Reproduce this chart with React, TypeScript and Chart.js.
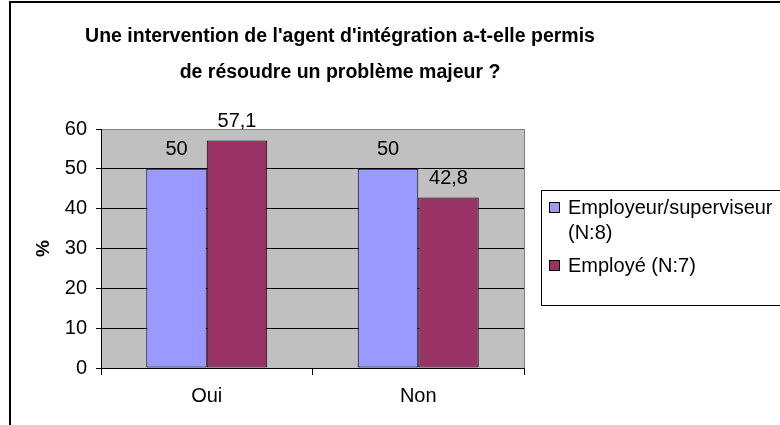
import React, { useEffect, useRef } from "react";
import { Chart, registerables } from "chart.js";

Chart.register(...registerables);

const categories = ["Oui", "Non"];
const employeurValues = [50, 50];
const employeValues = [57.1, 42.8];
const seriesLabels = ["Employeur/superviseur (N:8)", "Employé (N:7)"];
const legendLines = [["Employeur/superviseur", "(N:8)"], ["Employé (N:7)"]];
const titleLines = [
  "Une intervention de l'agent d'intégration a-t-elle permis",
  "de résoudre un problème majeur ?",
];
const yTicks = [0, 10, 20, 30, 40, 50, 60];
const yAxisTitle = "%";

const FONT = "'Liberation Sans', Arial, Helvetica, sans-serif";
const BLUE = "#9999FF";
const PLUM = "#993366";

const fmt = (v: number) => String(v).replace(".", ",");

const backgroundPlugin = {
  id: "bgFrame",
  beforeDraw(chart: any) {
    const { ctx, chartArea } = chart;
    ctx.save();
    ctx.fillStyle = "#FFFFFF";
    ctx.fillRect(0, 0, chart.width, chart.height);
    ctx.fillStyle = "#C0C0C0";
    ctx.fillRect(chartArea.left, chartArea.top, chartArea.right - chartArea.left, chartArea.bottom - chartArea.top);
    // outer frame
    ctx.strokeStyle = "#000";
    ctx.lineWidth = 2;
    ctx.beginPath();
    ctx.moveTo(10, chart.height);
    ctx.lineTo(10, 2);
    ctx.lineTo(chart.width, 2);
    ctx.stroke();
    ctx.restore();
  },
  afterDraw(chart: any) {
    const { ctx, chartArea } = chart;
    ctx.save();
    // right plot border
    ctx.strokeStyle = "#808080";
    ctx.lineWidth = 1;
    ctx.beginPath();
    ctx.moveTo(Math.round(chartArea.right) + 0.5, chartArea.top);
    ctx.lineTo(Math.round(chartArea.right) + 0.5, chartArea.bottom);
    ctx.stroke();

    // data labels
    ctx.fillStyle = "#000";
    ctx.font = `20px ${FONT}`;
    ctx.textAlign = "center";
    ctx.textBaseline = "middle";
    chart.data.datasets.forEach((ds: any, di: number) => {
      const meta = chart.getDatasetMeta(di);
      meta.data.forEach((el: any, i: number) => {
        ctx.fillText(fmt(ds.data[i]), el.x, el.y - 19);
      });
    });

    // legend
    const lx = 541.5, ly = 190.5, lw = 300, lh = 115;
    ctx.fillStyle = "#FFFFFF";
    ctx.fillRect(lx, ly, lw, lh);
    ctx.strokeStyle = "#000";
    ctx.lineWidth = 1;
    ctx.strokeRect(lx, ly, lw, lh);
    const itemY = [208, 266];
    ctx.font = `20px ${FONT}`;
    ctx.textAlign = "left";
    ctx.textBaseline = "middle";
    chart.data.datasets.forEach((ds: any, di: number) => {
      const cy = itemY[di];
      ctx.fillStyle = ds.backgroundColor;
      ctx.fillRect(549, cy - 6, 11, 11);
      ctx.strokeStyle = "#000";
      ctx.strokeRect(549.5, cy - 5.5, 10, 10);
      ctx.fillStyle = "#000";
      legendLines[di].forEach((line, li) => {
        ctx.fillText(line, 568, cy + li * 25);
      });
    });
    ctx.restore();
  },
};

export default function App() {
  const canvasRef = useRef<HTMLCanvasElement | null>(null);

  useEffect(() => {
    if (!canvasRef.current) return;
    const chart = new Chart(canvasRef.current, {
      type: "bar",
      data: {
        labels: categories,
        datasets: [
          {
            label: seriesLabels[0],
            data: employeurValues,
            backgroundColor: BLUE,
            borderColor: "#000",
            borderWidth: 1,
            borderSkipped: false,
            categoryPercentage: 0.572,
            barPercentage: 1,
          },
          {
            label: seriesLabels[1],
            data: employeValues,
            backgroundColor: PLUM,
            borderColor: "#000",
            borderWidth: 1,
            borderSkipped: false,
            categoryPercentage: 0.572,
            barPercentage: 1,
          },
        ],
      },
      options: {
        responsive: false,
        animation: false,
        devicePixelRatio: 1,
        layout: { padding: { left: 0, right: 100, top: 0, bottom: 0 } },
        plugins: {
          legend: { display: false },
          tooltip: { enabled: false },
          title: {
            display: true,
            text: titleLines,
            color: "#000",
            font: { family: FONT, size: 19.5, weight: "bold", lineHeight: 36 / 19.5 },
            padding: { top: 19, bottom: 38 },
          },
        },
        scales: {
          x: {
            ticks: { color: "#000", font: { family: FONT, size: 20 }, padding: 9 },
            grid: { drawOnChartArea: false, drawTicks: true, tickLength: 7, color: "#000", offset: true },
            border: { color: "#000", width: 1 },
            afterFit: (s: any) => {
              s.height = 57;
            },
          },
          y: {
            min: 0,
            max: 60,
            afterBuildTicks: (s: any) => {
              s.ticks = yTicks.map((v) => ({ value: v }));
            },
            ticks: { color: "#000", font: { family: FONT, size: 20 }, padding: 9 },
            grid: {
              color: (c: any) => (c.tick && c.tick.value === 60 ? "#808080" : "#000"),
              tickColor: "#000",
              tickLength: 5,
              lineWidth: 1,
            },
            border: { color: "#000", width: 1 },
            title: {
              display: true,
              text: yAxisTitle,
              color: "#000",
              font: { family: FONT, size: 19, weight: "bold" },
              padding: { top: 32, bottom: 0 },
            },
            afterFit: (s: any) => {
              s.width = 101;
            },
          },
          pad: {
            type: "linear",
            position: "right",
            display: true,
            grid: { display: false },
            ticks: { display: false },
            border: { display: false },
            afterFit: (s: any) => {
              s.width = 156;
            },
          },
        },
      } as any,
      plugins: [backgroundPlugin],
    });
    return () => chart.destroy();
  }, []);

  return (
    <div style={{ position: "absolute", left: 0, top: 0, width: 780, height: 425, overflow: "hidden" }}>
      <canvas ref={canvasRef} width={780} height={425} style={{ width: 780, height: 425, display: "block" }} />
    </div>
  );
}
